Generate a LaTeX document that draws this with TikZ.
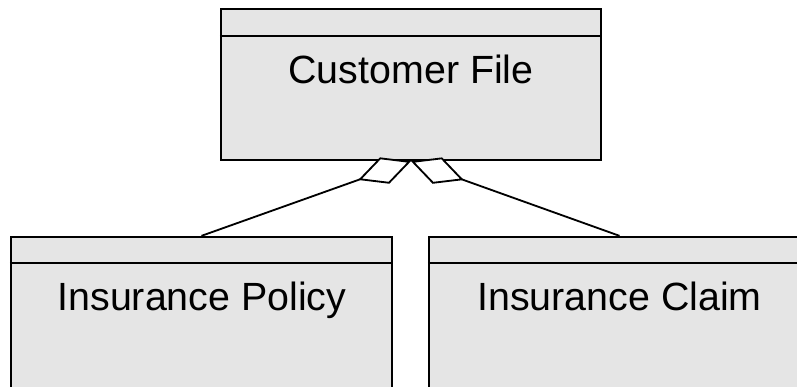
\documentclass[tikz,border=0pt]{standalone}
\usepackage{fontspec}
\setmainfont{Liberation Sans}
\usetikzlibrary{positioning,arrows.meta}
\tikzset{
	classbox/.style = {draw=black, fill=black!10, line width=1.6pt, minimum width=9.525cm, inner sep=0pt},
	classname/.style = {font=\fontsize{28}{34}\selectfont, anchor=base, inner sep=0pt},
	aggr/.style = {line width=1.3pt, -{Diamond[fill=white, length=1.4cm, width=0.7cm]}}
}

\begin{document}
\begin{tikzpicture}[x=0.025cm, y=-0.025cm]
\useasboundingbox (0,0) rectangle (797,387);
\clip (0,0) rectangle (797,387);

% CLASSES
\node (file) [classbox, minimum width=9.5cm, minimum height=3.775cm] at (411,84.5) {};
\node (policy) [classbox, minimum height=6.575cm] at (201.5,368.5) {};
\node (claim) [classbox, minimum height=6.575cm] at (619.5,368.5) {};

% header lines
\draw [line width=1.6pt] ([yshift=-0.7cm]file.north west) -- ([yshift=-0.7cm]file.north east);
\draw [line width=1.6pt] ([yshift=-0.675cm]policy.north west) -- ([yshift=-0.675cm]policy.north east);
\draw [line width=1.6pt] ([yshift=-0.675cm]claim.north west) -- ([yshift=-0.675cm]claim.north east);

% names
\node (filename) [classname] at (411,83) {Customer File};
\node (policyname) [classname] at (202,310) {Insurance Policy};
\node (claimname) [classname] at (619.5,310) {Insurance Claim};

% AGGREGATIONS
\draw [aggr] (policy.north) -- (file.south);
\draw [aggr] (claim.north) -- (file.south);

\end{tikzpicture}
\end{document}
